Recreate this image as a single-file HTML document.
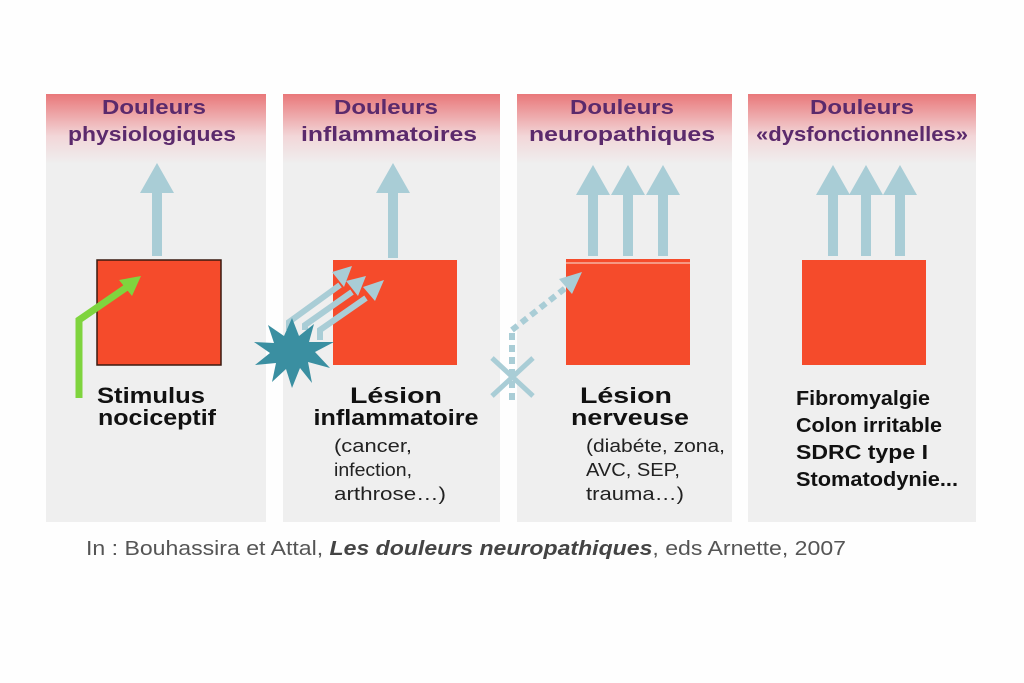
<!DOCTYPE html>
<html><head><meta charset="utf-8"><style>
body{margin:0;background:#fff;}
svg{display:block}
text{font-family:"Liberation Sans",Arial,sans-serif;}
</style></head><body>
<svg width="1024" height="683" viewBox="0 0 1024 683">
<defs>
<linearGradient id="g" x1="0" y1="0" x2="0" y2="1">
<stop offset="0" stop-color="#e9787a"/><stop offset="0.6" stop-color="#f2d6d8"/><stop offset="1" stop-color="#efefef"/>
</linearGradient>
</defs>
<rect width="1024" height="683" fill="#fefefe"/>
<g>
<rect x="46" y="94" width="220" height="428" fill="#efefef"/>
<rect x="46" y="94" width="220" height="70" fill="url(#g)"/>
<rect x="283" y="94" width="217" height="428" fill="#efefef"/>
<rect x="283" y="94" width="217" height="70" fill="url(#g)"/>
<rect x="517" y="94" width="215" height="428" fill="#efefef"/>
<rect x="517" y="94" width="215" height="70" fill="url(#g)"/>
<rect x="748" y="94" width="228" height="428" fill="#efefef"/>
<rect x="748" y="94" width="228" height="70" fill="url(#g)"/>
</g>
<g font-weight="bold" font-size="20" fill="#5b2a6c" text-anchor="middle" lengthAdjust="spacingAndGlyphs">
<text x="154" y="114" textLength="104" lengthAdjust="spacingAndGlyphs">Douleurs</text><text x="152" y="141" textLength="168" lengthAdjust="spacingAndGlyphs">physiologiques</text>
<text x="386" y="114" textLength="104" lengthAdjust="spacingAndGlyphs">Douleurs</text><text x="389" y="141" textLength="176" lengthAdjust="spacingAndGlyphs">inflammatoires</text>
<text x="622" y="114" textLength="104" lengthAdjust="spacingAndGlyphs">Douleurs</text><text x="622" y="141" textLength="186" lengthAdjust="spacingAndGlyphs">neuropathiques</text>
<text x="862" y="114" textLength="104" lengthAdjust="spacingAndGlyphs">Douleurs</text><text x="862" y="141" textLength="212" lengthAdjust="spacingAndGlyphs">«dysfonctionnelles»</text>
</g>
<g fill="#a9cdd6">
<polygon points="140,193 157,163 174,193 162,193 162,256 152,256 152,193"/>
<polygon points="376,193 393,163 410,193 398,193 398,258 388,258 388,193"/>
<polygon points="576,195 593,165 610,195 598,195 598,256 588,256 588,195"/>
<polygon points="611,195 628,165 645,195 633,195 633,256 623,256 623,195"/>
<polygon points="646,195 663,165 680,195 668,195 668,256 658,256 658,195"/>
<polygon points="816,195 833,165 850,195 838,195 838,256 828,256 828,195"/>
<polygon points="849,195 866,165 883,195 871,195 871,256 861,256 861,195"/>
<polygon points="883,195 900,165 917,195 905,195 905,256 895,256 895,195"/>
</g>
<rect x="97" y="260" width="124" height="105" fill="#f54b2b" stroke="#3a1a10" stroke-width="1.5"/>
<rect x="333" y="260" width="124" height="105" fill="#f54b2b"/>
<rect x="566" y="259" width="124" height="106" fill="#f54b2b"/>
<line x1="566" y1="263" x2="690" y2="263" stroke="#f6c7b8" stroke-width="1.2"/>
<rect x="802" y="260" width="124" height="105" fill="#f54b2b"/>
<polyline points="79,398 79,320 127,287" fill="none" stroke="#7fd43e" stroke-width="7"/>
<polygon points="141,276 119,280 132,296" fill="#7fd43e"/>
<g stroke="#a9cdd6" stroke-width="6" fill="none">
<polyline points="289,330 289,322 340,285"/>
<polyline points="305,330 305,325 352,292"/>
<polyline points="320,340 320,330 366,298"/>
</g>
<g fill="#a9cdd6">
<polygon points="352,266 332,272 344,287"/>
<polygon points="366,276 346,281 358,296"/>
<polygon points="384,280 363,287 375,301"/>
</g>
<polygon fill="#3a8fa1" points="292,318 299,336 314,324 309,342 334,342 315,352 330,368 308,362 312,383 300,368 292,388 286,369 272,382 276,363 255,365 270,353 254,342 274,343 268,325 284,336" />
<g stroke="#a9cdd6" stroke-width="6" fill="none" stroke-dasharray="7 5">
<line x1="512" y1="400" x2="512" y2="330"/>
<line x1="512" y1="330" x2="568" y2="286"/>
</g>
<polygon points="582,272 559,279 572,294" fill="#a9cdd6"/>
<g stroke="#a9cdd6" stroke-width="5">
<line x1="492" y1="358" x2="533" y2="396"/><line x1="533" y1="358" x2="492" y2="396"/>
</g>
<g font-weight="bold" font-size="22" fill="#111" text-anchor="middle">
<text x="151" y="403" textLength="108" lengthAdjust="spacingAndGlyphs">Stimulus</text><text x="157" y="425" textLength="118" lengthAdjust="spacingAndGlyphs">nociceptif</text>
<text x="396" y="403" textLength="92" lengthAdjust="spacingAndGlyphs">Lésion</text><text x="396" y="425" textLength="165" lengthAdjust="spacingAndGlyphs">inflammatoire</text>
<text x="626" y="403" textLength="92" lengthAdjust="spacingAndGlyphs">Lésion</text><text x="630" y="425" textLength="118" lengthAdjust="spacingAndGlyphs">nerveuse</text>
</g>
<g font-size="18" fill="#222">
<text x="334" y="452" textLength="78" lengthAdjust="spacingAndGlyphs">(cancer,</text><text x="334" y="476" textLength="78" lengthAdjust="spacingAndGlyphs">infection,</text><text x="334" y="500" textLength="112" lengthAdjust="spacingAndGlyphs">arthrose…)</text>
<text x="586" y="452" textLength="139" lengthAdjust="spacingAndGlyphs">(diabéte, zona,</text><text x="586" y="476" textLength="94" lengthAdjust="spacingAndGlyphs">AVC, SEP,</text><text x="586" y="500" textLength="98" lengthAdjust="spacingAndGlyphs">trauma…)</text>
</g>
<g font-weight="bold" font-size="20" fill="#111">
<text x="796" y="405" textLength="134" lengthAdjust="spacingAndGlyphs">Fibromyalgie</text><text x="796" y="432" textLength="146" lengthAdjust="spacingAndGlyphs">Colon irritable</text>
<text x="796" y="459" textLength="132" lengthAdjust="spacingAndGlyphs">SDRC type I</text><text x="796" y="486" textLength="162" lengthAdjust="spacingAndGlyphs">Stomatodynie...</text>
</g>
<text x="86" y="555" font-size="20" fill="#555" textLength="760" lengthAdjust="spacingAndGlyphs">In : Bouhassira et Attal, <tspan font-weight="bold" font-style="italic" fill="#444">Les douleurs neuropathiques</tspan>, eds Arnette, 2007</text>
</svg>
</body></html>
